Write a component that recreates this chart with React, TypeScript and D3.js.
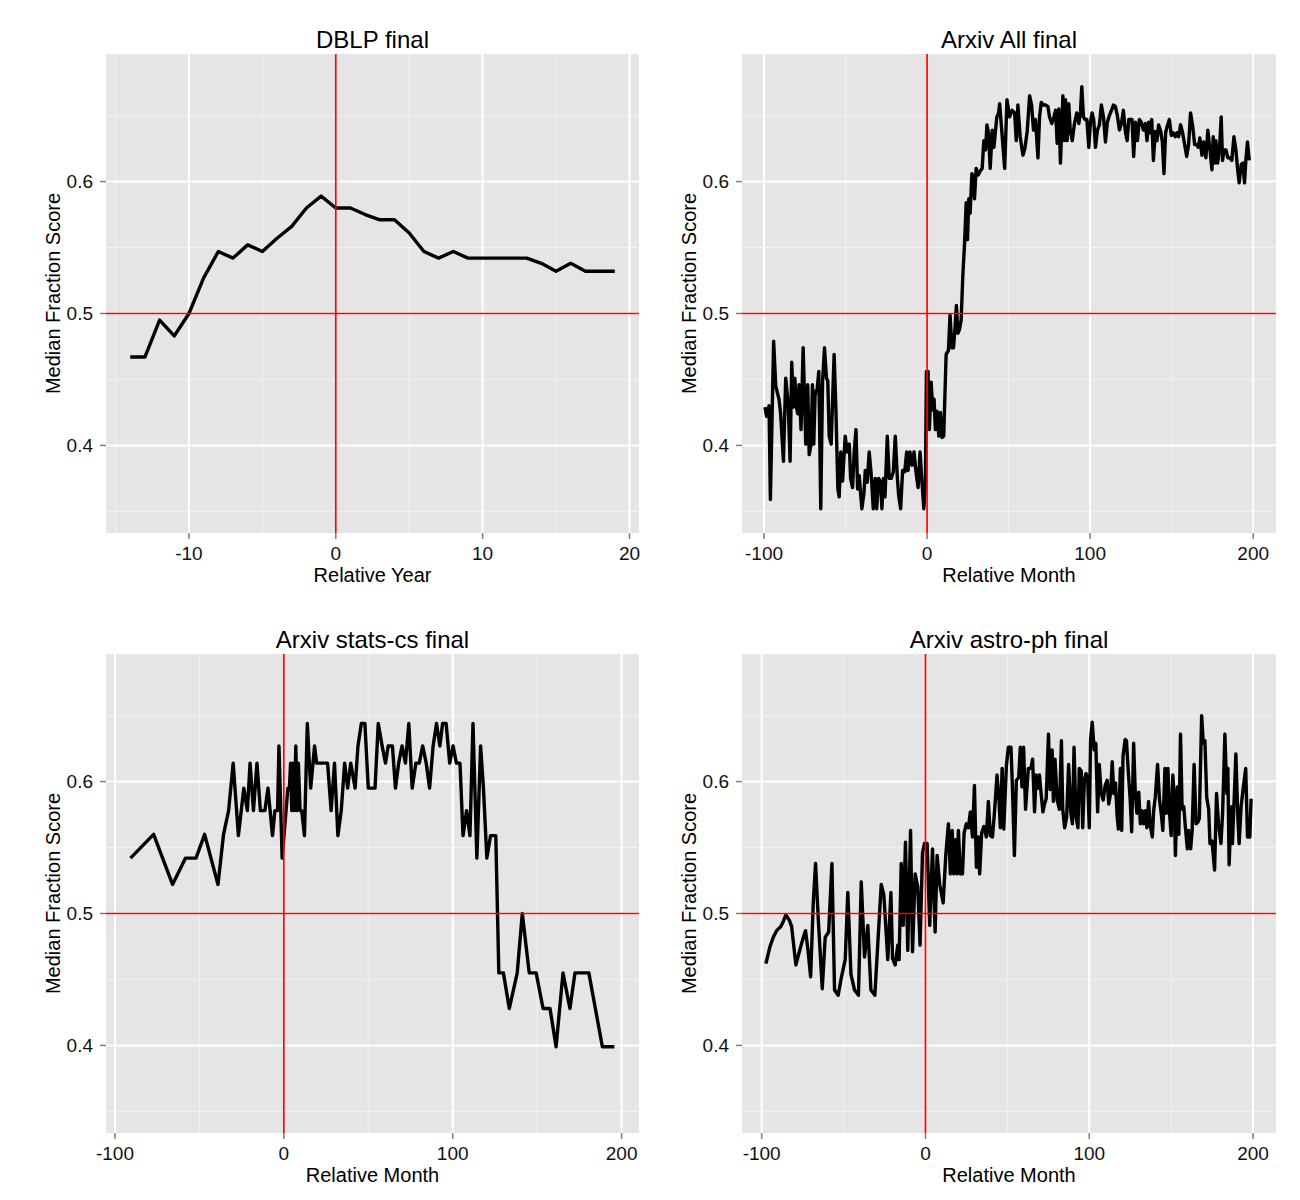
import * as d3 from 'd3'

// DBLP final (yearly)
const dblpYears = [-14, -13, -12, -11, -10, -9, -8, -7, -6, -5, -4, -3, -2, -1, 0, 1, 2, 3, 4, 5, 6, 7, 8, 9, 10, 11, 12, 13, 14, 15, 16, 17, 18, 19]
const dblpScores = [0.467, 0.467, 0.495, 0.483, 0.5, 0.527, 0.547, 0.542, 0.552, 0.547, 0.557, 0.566, 0.58, 0.589, 0.58, 0.58, 0.575, 0.571, 0.571, 0.561, 0.547, 0.542, 0.547, 0.542, 0.542, 0.542, 0.542, 0.542, 0.538, 0.532, 0.538, 0.532, 0.532, 0.532]

// Arxiv All final (monthly)
const allMonths = [
  -99.4, -98.4, -96.9, -96.1, -94.9, -94.1, -92.8, -90.8, -89.8, -88.1, -86.7, -85.2, -84.0, -83.0, -82.0, -81.1, -80.1, -79.3, -78.5, -77.3,
  -76.0, -74.4, -73.2, -72.3, -71.1, -70.3, -69.5, -68.6, -67.6, -66.4, -65.2, -64.1, -62.9, -61.7, -60.9, -60.0, -58.8, -58.0, -57.0, -55.9,
  -54.7, -53.9, -52.9, -51.8, -50.2, -49.0, -47.7, -46.9, -45.7, -44.7, -43.6, -42.6, -41.6, -40.0, -38.7, -37.9, -36.7, -35.5, -34.2, -33.0,
  -31.8, -30.9, -29.7, -28.5, -27.7, -26.8, -25.8, -24.4, -23.2, -21.9, -20.7, -19.5, -18.2, -17.4, -16.2, -15.0, -13.7, -12.5, -11.7, -10.5,
  -9.2, -8.0, -6.8, -5.5, -4.3, -3.1, -2.0, -1.0, -0.4, 0.6, 1.4, 2.5, 3.5, 4.3, 5.1, 6.1, 7.2, 8.2, 9.2, 10.2,
  11.7, 13.1, 14.1, 15.2, 16.2, 17.2, 18.0, 18.9, 19.9, 20.9, 21.9, 23.0, 24.0, 24.8, 25.6, 26.4, 27.5, 28.3, 29.1, 30.1,
  31.4, 32.6, 33.8, 34.8, 35.9, 36.7, 37.7, 38.7, 40.0, 41.0, 42.0, 42.8, 43.9, 44.5, 46.1, 47.6, 49.0, 50.6, 52.2, 53.7,
  54.7, 55.7, 57.1, 58.8, 60.0, 61.4, 62.9, 64.1, 65.3, 66.5, 68.0, 69.0, 70.0, 71.4, 72.7, 74.1, 75.1, 76.5, 77.8, 78.8,
  79.8, 80.8, 81.8, 83.3, 84.1, 84.9, 85.9, 86.9, 87.8, 89.0, 90.4, 91.8, 93.1, 94.1, 94.9, 95.9, 96.9, 98.0, 99.2, 100.2,
  101.2, 102.2, 103.3, 104.5, 105.7, 106.9, 108.2, 109.4, 110.6, 111.8, 113.1, 114.3, 115.5, 116.7, 118.0, 119.2, 120.4, 121.6, 122.7, 123.7,
  124.9, 125.7, 126.7, 127.8, 129.0, 130.2, 131.4, 132.7, 133.9, 134.9, 135.9, 136.7, 137.8, 138.8, 140.0, 141.0, 142.0, 143.3, 144.3, 145.3,
  146.3, 147.3, 148.6, 149.8, 151.0, 152.2, 153.3, 154.3, 155.5, 156.7, 158.0, 159.2, 160.4, 161.6, 162.9, 164.1, 165.3, 166.3, 167.3, 168.6,
  169.6, 171.0, 172.2, 173.5, 174.7, 175.5, 176.3, 177.1, 178.2, 179.4, 180.4, 181.2, 182.2, 183.3, 184.5, 185.7, 186.9, 188.2, 189.4, 190.4,
  191.4, 192.7, 193.7, 194.7, 195.5, 196.5, 197.6,
]
const allScores = [
  0.429, 0.422, 0.43, 0.359, 0.43, 0.479, 0.445, 0.435, 0.424, 0.388, 0.451, 0.432, 0.388, 0.463, 0.429, 0.451, 0.429, 0.424, 0.446, 0.412,
  0.474, 0.401, 0.446, 0.393, 0.401, 0.446, 0.401, 0.441, 0.44, 0.456, 0.352, 0.448, 0.474, 0.451, 0.449, 0.407, 0.401, 0.432, 0.469, 0.427,
  0.367, 0.361, 0.395, 0.373, 0.407, 0.395, 0.401, 0.375, 0.368, 0.395, 0.412, 0.367, 0.377, 0.352, 0.364, 0.381, 0.372, 0.395, 0.377, 0.352,
  0.375, 0.352, 0.375, 0.372, 0.352, 0.375, 0.361, 0.407, 0.375, 0.375, 0.38, 0.407, 0.375, 0.362, 0.352, 0.381, 0.38, 0.395, 0.381, 0.395,
  0.385, 0.395, 0.38, 0.368, 0.395, 0.372, 0.352, 0.372, 0.456, 0.456, 0.412, 0.448, 0.427, 0.435, 0.412, 0.426, 0.407, 0.425, 0.406, 0.407,
  0.469, 0.472, 0.499, 0.474, 0.474, 0.49, 0.506, 0.485, 0.488, 0.495, 0.528, 0.553, 0.584, 0.556, 0.587, 0.576, 0.606, 0.604, 0.587, 0.61,
  0.605, 0.608, 0.61, 0.631, 0.624, 0.643, 0.637, 0.61, 0.639, 0.626, 0.639, 0.649, 0.652, 0.659, 0.634, 0.61, 0.662, 0.649, 0.654, 0.652,
  0.631, 0.658, 0.634, 0.62, 0.625, 0.638, 0.665, 0.658, 0.639, 0.647, 0.618, 0.649, 0.66, 0.658, 0.658, 0.657, 0.649, 0.644, 0.649, 0.654,
  0.629, 0.655, 0.614, 0.665, 0.631, 0.662, 0.631, 0.659, 0.639, 0.631, 0.644, 0.652, 0.644, 0.653, 0.672, 0.649, 0.647, 0.647, 0.626, 0.645,
  0.652, 0.647, 0.626, 0.639, 0.643, 0.658, 0.649, 0.63, 0.645, 0.65, 0.654, 0.658, 0.657, 0.65, 0.639, 0.644, 0.654, 0.638, 0.631, 0.647,
  0.647, 0.647, 0.619, 0.645, 0.631, 0.647, 0.645, 0.639, 0.644, 0.631, 0.645, 0.637, 0.647, 0.616, 0.638, 0.631, 0.643, 0.638, 0.63, 0.606,
  0.637, 0.642, 0.647, 0.635, 0.637, 0.634, 0.637, 0.634, 0.643, 0.637, 0.628, 0.619, 0.628, 0.652, 0.642, 0.628, 0.628, 0.626, 0.633, 0.62,
  0.63, 0.618, 0.639, 0.624, 0.609, 0.634, 0.614, 0.631, 0.614, 0.626, 0.649, 0.616, 0.624, 0.624, 0.618, 0.618, 0.616, 0.634, 0.624, 0.61,
  0.599, 0.613, 0.614, 0.599, 0.616, 0.63, 0.616,
]

// Arxiv stats-cs final (monthly, sparse)
const statsMonths = [
  -90.8, -77.1, -65.9, -58.2, -52.0, -46.9, -39.0, -35.7, -32.7, -30.0, -26.9, -23.7, -21.6, -20.0, -18.0, -15.9, -13.9, -11.2, -9.4, -6.7,
  -5.3, -3.7, -2.9, -1.0, 2.4, 3.3, 4.0, 4.7, 5.5, 6.3, 7.1, 7.8, 8.6, 9.6, 10.6, 12.2, 13.9, 15.9, 18.2, 19.4,
  25.9, 28.0, 30.0, 32.0, 34.0, 36.0, 37.8, 39.6, 42.2, 43.9, 45.9, 48.0, 50.0, 54.0, 55.9, 58.2, 60.2, 61.8, 64.3, 66.1,
  68.0, 70.0, 72.0, 74.0, 76.0, 78.2, 80.2, 82.2, 84.3, 86.3, 88.4, 90.4, 92.4, 94.0, 96.1, 98.2, 100.2, 102.2, 104.3, 106.1,
  108.2, 110.2, 112.0, 114.3, 116.5, 118.2, 120.2, 122.4, 125.5, 127.3, 130.0, 133.5, 138.2, 141.2, 145.3, 149.4, 153.5, 157.6, 161.2, 165.3,
  169.4, 172.4, 180.6, 188.6, 195.7,
]
const statsScores = [
  0.542, 0.56, 0.522, 0.542, 0.542, 0.56, 0.522, 0.56, 0.578, 0.614, 0.559, 0.595, 0.578, 0.614, 0.578, 0.614, 0.578, 0.578, 0.595, 0.559,
  0.578, 0.578, 0.627, 0.542, 0.595, 0.595, 0.614, 0.578, 0.614, 0.578, 0.627, 0.578, 0.614, 0.578, 0.578, 0.559, 0.644, 0.595, 0.627, 0.614,
  0.614, 0.578, 0.614, 0.559, 0.578, 0.614, 0.595, 0.614, 0.595, 0.627, 0.644, 0.644, 0.595, 0.595, 0.644, 0.627, 0.614, 0.627, 0.627, 0.595,
  0.614, 0.627, 0.614, 0.644, 0.595, 0.614, 0.614, 0.627, 0.614, 0.595, 0.627, 0.644, 0.627, 0.644, 0.644, 0.614, 0.627, 0.614, 0.614, 0.559,
  0.578, 0.559, 0.644, 0.542, 0.627, 0.595, 0.542, 0.559, 0.559, 0.455, 0.455, 0.428, 0.455, 0.5, 0.455, 0.455, 0.428, 0.428, 0.399, 0.455,
  0.428, 0.455, 0.455, 0.399, 0.399,
]

// Arxiv astro-ph final (monthly)
const astroMonths = [
  -97.4, -94.9, -92.9, -90.9, -88.4, -86.8, -85.2, -83.1, -81.7, -79.1, -77.0, -75.0, -73.2, -71.7, -70.1, -68.5, -67.1, -65.4, -63.0, -61.2,
  -59.1, -57.1, -55.5, -53.3, -51.4, -49.0, -47.4, -45.5, -43.3, -40.9, -39.2, -37.2, -35.2, -33.3, -30.9, -29.1, -27.0, -25.4, -23.0, -21.1,
  -20.1, -18.5, -16.9, -16.1, -14.8, -13.6, -12.2, -10.8, -9.1, -7.9, -6.3, -4.7, -3.3, -1.8, -0.6, 1.0, 2.6, 4.3, 5.9, 7.1,
  8.7, 10.8, 12.4, 14.0, 15.2, 16.3, 17.3, 18.3, 19.3, 20.1, 21.3, 22.6, 23.6, 25.0, 26.2, 27.4, 28.7, 29.9, 31.1, 32.3,
  33.1, 34.3, 35.6, 37.2, 38.4, 39.6, 40.9, 42.1, 43.7, 44.9, 45.7, 46.8, 47.8, 49.4, 50.6, 52.2, 53.0, 54.3, 55.5, 56.9,
  57.9, 58.9, 59.9, 61.1, 62.8, 64.4, 65.4, 66.6, 67.6, 68.8, 69.6, 70.6, 71.7, 72.7, 73.7, 75.1, 76.1, 77.3, 78.1, 79.1,
  80.4, 81.8, 83.0, 83.8, 85.0, 86.2, 87.4, 88.7, 89.7, 90.7, 91.9, 93.1, 93.9, 95.1, 96.0, 97.0, 98.0, 99.0, 100.0, 100.8,
  101.8, 103.0, 104.0, 105.1, 106.1, 107.3, 108.5, 109.7, 110.9, 111.9, 113.0, 114.0, 115.0, 116.0, 117.0, 117.8, 119.0, 119.8, 120.6, 121.9,
  122.7, 123.9, 124.9, 125.9, 127.1, 128.1, 129.1, 130.2, 131.2, 132.2, 133.2, 134.2, 135.2, 136.2, 137.2, 138.5, 139.3, 140.3, 141.7, 142.9,
  144.1, 144.9, 146.2, 147.0, 148.0, 149.0, 150.0, 151.0, 151.8, 152.6, 153.8, 154.7, 155.7, 156.7, 157.7, 158.7, 159.9, 160.7, 161.9, 162.8,
  164.0, 165.2, 166.2, 167.2, 168.6, 169.6, 170.6, 171.7, 172.9, 173.7, 174.9, 176.5, 177.7, 178.9, 180.4, 181.4, 182.8, 184.0, 184.6, 185.4,
  186.6, 187.4, 188.5, 189.5, 190.7, 191.5, 192.7, 193.9, 195.5, 196.6, 198.0, 198.8,
]
const astroScores = [
  0.462, 0.475, 0.482, 0.487, 0.49, 0.494, 0.499, 0.495, 0.49, 0.461, 0.471, 0.48, 0.487, 0.472, 0.452, 0.508, 0.538, 0.495, 0.443, 0.482,
  0.486, 0.538, 0.442, 0.438, 0.451, 0.465, 0.516, 0.454, 0.442, 0.438, 0.524, 0.467, 0.491, 0.442, 0.438, 0.477, 0.522, 0.514, 0.465, 0.516,
  0.466, 0.461, 0.476, 0.465, 0.538, 0.491, 0.554, 0.472, 0.563, 0.471, 0.53, 0.52, 0.476, 0.546, 0.553, 0.553, 0.491, 0.549, 0.486, 0.544,
  0.522, 0.508, 0.544, 0.568, 0.53, 0.563, 0.53, 0.556, 0.53, 0.563, 0.53, 0.53, 0.561, 0.568, 0.565, 0.577, 0.558, 0.597, 0.535, 0.558,
  0.53, 0.561, 0.566, 0.558, 0.585, 0.559, 0.558, 0.576, 0.605, 0.586, 0.565, 0.61, 0.564, 0.612, 0.626, 0.626, 0.599, 0.544, 0.601, 0.603,
  0.626, 0.596, 0.626, 0.579, 0.61, 0.61, 0.617, 0.577, 0.605, 0.595, 0.605, 0.591, 0.577, 0.583, 0.587, 0.636, 0.594, 0.624, 0.585, 0.617,
  0.586, 0.579, 0.631, 0.579, 0.565, 0.573, 0.613, 0.577, 0.568, 0.626, 0.573, 0.565, 0.61, 0.608, 0.565, 0.601, 0.606, 0.603, 0.565, 0.632,
  0.645, 0.624, 0.629, 0.577, 0.613, 0.591, 0.586, 0.597, 0.601, 0.583, 0.591, 0.615, 0.591, 0.599, 0.574, 0.564, 0.61, 0.563, 0.619, 0.632,
  0.631, 0.606, 0.588, 0.562, 0.629, 0.591, 0.576, 0.592, 0.568, 0.578, 0.568, 0.578, 0.565, 0.585, 0.567, 0.558, 0.578, 0.588, 0.613, 0.586,
  0.574, 0.563, 0.61, 0.576, 0.61, 0.576, 0.559, 0.605, 0.59, 0.544, 0.596, 0.56, 0.636, 0.579, 0.581, 0.565, 0.549, 0.563, 0.549, 0.563,
  0.613, 0.568, 0.569, 0.572, 0.65, 0.629, 0.631, 0.588, 0.579, 0.553, 0.555, 0.533, 0.591, 0.568, 0.553, 0.576, 0.636, 0.591, 0.61, 0.537,
  0.581, 0.553, 0.588, 0.621, 0.573, 0.553, 0.581, 0.594, 0.61, 0.558, 0.558, 0.587,
]

const yTicks = [0.4, 0.5, 0.6]
const yMinor = [0.35, 0.45, 0.55, 0.65]
const yDomain: [number, number] = [0.3336, 0.6967]

interface PanelSpec {
  title: string
  xLabel: string
  xs: number[]
  ys: number[]
  xDomain: [number, number]
  xTicks: number[]
  xMinor: number[]
  left: number
  right: number
  top: number
  bottom: number
}

const FONT = "'Liberation Sans', Arial, Helvetica, sans-serif"

function Panel({ spec }: { spec: PanelSpec }) {
  const { left, right, top, bottom } = spec
  const x = d3.scaleLinear().domain(spec.xDomain).range([left, right])
  const y = d3.scaleLinear().domain(yDomain).range([bottom, top])
  const pts = spec.xs.map((v, i) => [v, spec.ys[i]] as [number, number])
  const line = d3
    .line<[number, number]>()
    .x((d) => x(d[0]))
    .y((d) => y(d[1]))
  const cx = (left + right) / 2
  const cy = (top + bottom) / 2

  return (
    <g>
      <rect x={left} y={top} width={right - left} height={bottom - top} fill="#e5e5e5" />
      {/* minor grid */}
      {yMinor.map((t) => (
        <line key={'ym' + t} x1={left} x2={right} y1={y(t)} y2={y(t)} stroke="#f2f2f2" strokeWidth={1} />
      ))}
      {spec.xMinor.map((t) => (
        <line key={'xm' + t} x1={x(t)} x2={x(t)} y1={top} y2={bottom} stroke="#f2f2f2" strokeWidth={1} />
      ))}
      {/* major grid */}
      {yTicks.map((t) => (
        <line key={'yg' + t} x1={left} x2={right} y1={y(t)} y2={y(t)} stroke="#ffffff" strokeWidth={2} />
      ))}
      {spec.xTicks.map((t) => (
        <line key={'xg' + t} x1={x(t)} x2={x(t)} y1={top} y2={bottom} stroke="#ffffff" strokeWidth={2} />
      ))}
      {/* data */}
      <path d={line(pts) || ''} fill="none" stroke="#000" strokeWidth={3.4} strokeLinejoin="round" />
      {/* reference lines */}
      <line x1={x(0)} x2={x(0)} y1={top} y2={bottom} stroke="#ff0000" strokeWidth={1.7} />
      <line x1={left} x2={right} y1={y(0.5)} y2={y(0.5)} stroke="#ff0000" strokeWidth={1.7} />
      {/* y axis */}
      {yTicks.map((t) => (
        <g key={'yt' + t}>
          <line x1={left - 6} x2={left} y1={y(t)} y2={y(t)} stroke="#7f7f7f" strokeWidth={1.5} />
          <text x={left - 13} y={y(t)} dy="0.36em" textAnchor="end" fontSize={19} fill="#111" fontFamily={FONT}>
            {t.toFixed(1)}
          </text>
        </g>
      ))}
      {/* x axis */}
      {spec.xTicks.map((t) => (
        <g key={'xt' + t}>
          <line x1={x(t)} x2={x(t)} y1={bottom} y2={bottom + 6} stroke="#7f7f7f" strokeWidth={1.5} />
          <text x={x(t)} y={bottom + 27} textAnchor="middle" fontSize={19} fill="#111" fontFamily={FONT}>
            {t}
          </text>
        </g>
      ))}
      <text x={cx} y={top - 6} textAnchor="middle" fontSize={24} fill="#000" fontFamily={FONT}>
        {spec.title}
      </text>
      <text x={cx} y={bottom + 49} textAnchor="middle" fontSize={20} fill="#000" fontFamily={FONT}>
        {spec.xLabel}
      </text>
      <text
        transform={`translate(${left - 46},${cy}) rotate(-90)`}
        textAnchor="middle"
        fontSize={20}
        fill="#000"
        fontFamily={FONT}
      >
        Median Fraction Score
      </text>
    </g>
  )
}

const panels: PanelSpec[] = [
  {
    title: 'DBLP final',
    xLabel: 'Relative Year',
    xs: dblpYears,
    ys: dblpScores,
    xDomain: [-15.65, 20.65],
    xTicks: [-10, 0, 10, 20],
    xMinor: [-15, -5, 5, 15],
    left: 106,
    right: 639,
    top: 54,
    bottom: 533,
  },
  {
    title: 'Arxiv All final',
    xLabel: 'Relative Month',
    xs: allMonths,
    ys: allScores,
    xDomain: [-113.5, 214],
    xTicks: [-100, 0, 100, 200],
    xMinor: [-50, 50, 150],
    left: 742,
    right: 1276,
    top: 54,
    bottom: 533,
  },
  {
    title: 'Arxiv stats-cs final',
    xLabel: 'Relative Month',
    xs: statsMonths,
    ys: statsScores,
    xDomain: [-105.3, 210.3],
    xTicks: [-100, 0, 100, 200],
    xMinor: [-50, 50, 150],
    left: 106,
    right: 639,
    top: 654,
    bottom: 1133,
  },
  {
    title: 'Arxiv astro-ph final',
    xLabel: 'Relative Month',
    xs: astroMonths,
    ys: astroScores,
    xDomain: [-112, 214],
    xTicks: [-100, 0, 100, 200],
    xMinor: [-50, 50, 150],
    left: 742,
    right: 1276,
    top: 654,
    bottom: 1133,
  },
]

export default function App() {
  return (
    <div style={{ position: 'absolute', left: 0, top: 0 }}>
      <svg width={1300} height={1200} style={{ display: 'block', background: '#fff' }}>
        {panels.map((p) => (
          <Panel key={p.title} spec={p} />
        ))}
      </svg>
    </div>
  )
}
